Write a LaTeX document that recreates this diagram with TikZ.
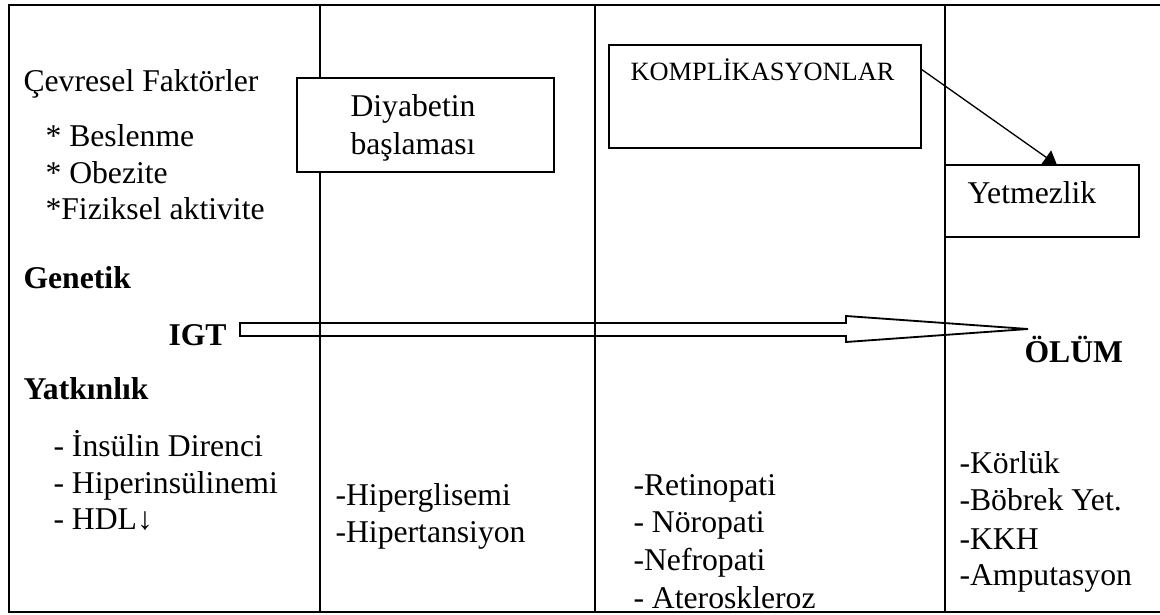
\documentclass[tikz,border=0pt]{standalone}
\usepackage{fontspec}
\setmainfont{Liberation Serif}
\usetikzlibrary{arrows.meta, calc}

\tikzset{
  txt/.style={anchor=base west, inner sep=0, font=\fontsize{12}{14}\selectfont},
  btxt/.style={txt, font=\fontsize{12}{14}\selectfont\bfseries},
  stxt/.style={txt, font=\fontsize{10}{12}\selectfont},
  box/.style={draw, line width=0.5pt, fill=white, inner sep=0, outer sep=0},
  frame/.style={line width=0.75pt},
  divider/.style={line width=0.6pt}
}

\begin{document}
\begin{tikzpicture}[x=0.3788pt, y=-0.3788pt, >={Triangle[length=5pt,width=6.4pt]}]
\useasboundingbox (0,0) rectangle (1160,615);
% frame and columns
\draw[frame] (1160,5) -- (9,5) -- (9,612) -- (1160,612);
\draw[divider] (320,5) -- (320,612);
\draw[divider] (595,5) -- (595,612);
\draw[divider] (945,5) -- (945,612);
% boxes
\node[box, minimum width=97.4pt, minimum height=35.6pt] at (425.5,125) (diyabox) {};
\node[box, minimum width=118.2pt, minimum height=39pt] at (765,96.5) (kompbox) {};
\node[box, minimum width=73.5pt, minimum height=27.3pt] at (1042,201) (yetbox) {};
% column 1
\node[txt]  at (23,92)   (cevresel) {Çevresel Faktörler};
\node[txt]  at (45,147)  (beslenme) {* Beslenme};
\node[txt]  at (45,184)  (obezite) {* Obezite};
\node[txt]  at (45,220)  (fiziksel) {*Fiziksel aktivite};
\node[btxt] at (23,289)  (genetik) {Genetik};
\node[btxt] at (168,346) (igt) {IGT};
\node[btxt] at (23,400)  (yatkinlik) {Yatkınlık};
\node[txt]  at (53,457)  (insulin) {- İnsülin Direnci};
\node[txt]  at (53,494)  (hiperins) {- Hiperinsülinemi};
\node[txt]  at (53,530)  (hdl) {- HDL↓};
% column 2
\node[txt]  at (350,117) (diyabetin) {Diyabetin};
\node[txt]  at (350,155) (baslamasi) {başlaması};
\node[txt]  at (335,506) (hiperglisemi) {-Hiperglisemi};
\node[txt]  at (335,543) (hipertansiyon) {-Hipertansiyon};
% column 3
\node[stxt] at (630,81)  (komp) {KOMPLİKASYONLAR};
\node[txt]  at (633,496) (retinopati) {-Retinopati};
\node[txt]  at (633,533) (noropati) {- Nöropati};
\node[txt]  at (633,571) (nefropati) {-Nefropati};
\node[txt]  at (633,608) (ateroskleroz) {- Ateroskleroz};
% column 4
\node[txt]  at (967,204) (yetmezlik) {Yetmezlik};
\node[btxt] at (1024,363) (olum) {ÖLÜM};
\node[txt]  at (959,474) (korluk) {-Körlük};
\node[txt]  at (959,511) (bobrek) {-Böbrek Yet.};
\node[txt]  at (959,549) (kkh) {-KKH};
\node[txt]  at (959,586) (amputasyon) {-Amputasyon};
% arrows
\draw[->, line width=0.5pt] ($(kompbox.north east)+(0,24)$) -- ($(yetbox.north west)+(112,0)$);
\draw[line width=0.7pt] (240,323) -- (846,323) -- (846,316) -- (1028,329)
  -- (846,342) -- (846,336) -- (240,336) -- cycle;
\end{tikzpicture}
\end{document}
